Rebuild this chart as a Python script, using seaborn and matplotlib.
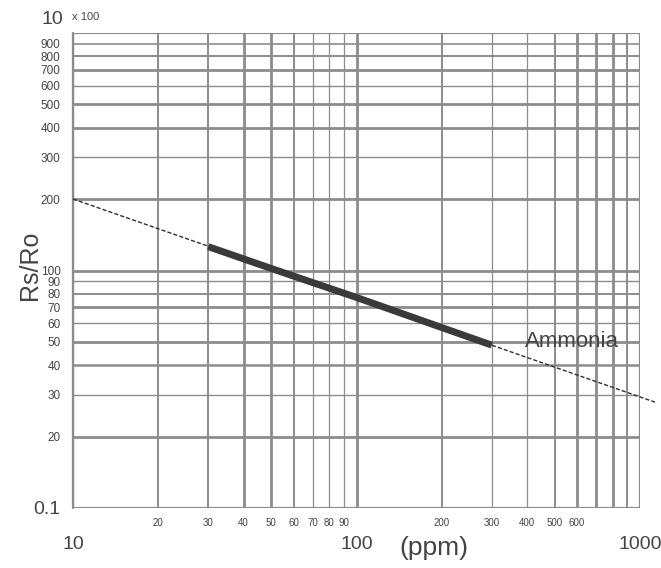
import matplotlib
matplotlib.use("Agg")
import matplotlib.pyplot as plt
import seaborn as sns
import pandas as pd
from matplotlib.ticker import NullLocator, FixedLocator

# ---- data ----
ppm_trend = [10, 1130]
rs_trend = [2.0, 0.279]
ppm_meas = [30, 50, 100, 200, 300]
rs_meas = [1.26, 1.02, 0.77, 0.575, 0.485]

y_ticks = [0.1, 0.2, 0.3, 0.4, 0.5, 0.6, 0.7, 0.8, 0.9,
           1, 2, 3, 4, 5, 6, 7, 8, 9, 10]
y_labels = ["0.1", "20", "30", "40", "50", "60", "70", "80", "90",
            "100", "200", "300", "400", "500", "600", "700", "800", "900", ""]
x_major = [10, 100, 1000]
x_major_labels = ["10", "100", "1000"]
x_minor = [20, 30, 40, 50, 60, 70, 80, 90, 200, 300, 400, 500, 600, 700, 800, 900]
x_minor_labels = ["20", "30", "40", "50", "60", "70", "80", "90",
                  "200", "300", "400", "500", "600", "", "", ""]

# gridline weights (style)
hgrid_w = [1.6, 2.0, 1.0, 1.8, 2.0, 1.0, 2.0, 1.4, 1.0,
           2.0, 2.0, 1.0, 2.0, 2.0, 1.0, 2.0, 1.4, 1.2, 1.6]
vgrid_w = [1.6, 1.4, 1.4, 2.0, 2.0, 1.4, 0.9, 0.9, 0.9,
           2.0, 1.4, 0.9, 0.9, 1.4, 2.0, 2.0, 2.0, 1.4, 1.6]
vgrid_x = [10] + x_minor[:8] + [100] + x_minor[8:] + [1000]

sns.set_style("white")
plt.rcParams["font.family"] = ["Liberation Sans", "DejaVu Sans"]

fig = plt.figure(figsize=(6.61, 5.68), dpi=100)
ax = fig.add_axes([73 / 661, 1 - 508 / 568, 567 / 661, 475 / 568])
ax.set_xscale("log")
ax.set_yscale("log")
ax.set_xlim(10, 1000)
ax.set_ylim(0.1, 10)

gcol = "#8c8c8c"
for yv, w in zip(y_ticks, hgrid_w):
    ax.axhline(yv, color=gcol, lw=w, zorder=1)
for xv, w in zip(vgrid_x, vgrid_w):
    ax.axvline(xv, color=gcol, lw=w, zorder=1)

df_t = pd.DataFrame({"ppm": ppm_trend, "rs": rs_trend})
df_m = pd.DataFrame({"ppm": ppm_meas, "rs": rs_meas})
sns.lineplot(data=df_t, x="ppm", y="rs", ax=ax, color="#303030", lw=1.0,
             linestyle=(0, (3, 1.5)), clip_on=False, zorder=3)
sns.lineplot(data=df_m, x="ppm", y="rs", ax=ax, color="#3a3a3a", lw=5.0,
             solid_capstyle="butt", zorder=4)

for s in ax.spines.values():
    s.set_visible(False)

# y ticks
ax.yaxis.set_minor_locator(NullLocator())
ax.set_yticks(y_ticks)
ax.set_yticklabels(y_labels)
for lab, v in zip(ax.get_yticklabels(), y_ticks):
    lab.set_color("#444444")
    lab.set_fontsize(14 if v == 0.1 else 8.5)
ax.tick_params(axis="y", length=0, pad=9)

# x ticks
ax.xaxis.set_major_locator(FixedLocator(x_major))
ax.set_xticks(x_major)
ax.set_xticklabels(x_major_labels, fontsize=14, color="#444444")
ax.set_xticks(x_minor, minor=True)
ax.set_xticklabels(x_minor_labels, minor=True, fontsize=7, color="#444444")
ax.tick_params(axis="x", which="major", length=14, width=1.4, color=gcol, pad=6)
ax.tick_params(axis="x", which="minor", length=0, pad=7)

ax.set_xlabel("")
ax.set_ylabel("")
fig.text(30 / 661, 1 - 265 / 568, "Rs/Ro", rotation=90, ha="center", va="center",
         fontsize=18, color="#444444")
fig.text(434 / 661, 1 - 548 / 568, "(ppm)", ha="center", va="center",
         fontsize=19, color="#444444")
fig.text(52 / 661, 1 - 20 / 568, "10", ha="center", va="center",
         fontsize=14, color="#444444")
fig.text(72 / 661, 1 - 17 / 568, "x 100", ha="left", va="center",
         fontsize=8, color="#444444")

ax.text(393, 0.5, "Ammonia", ha="left", va="center", fontsize=16, color="#444444",
        zorder=5)

# left spine extension below axis
ax.plot([10, 10], [0.1, 10], color=gcol, lw=1.6, clip_on=False)

fig.savefig("out.png", dpi=100, facecolor="white")
